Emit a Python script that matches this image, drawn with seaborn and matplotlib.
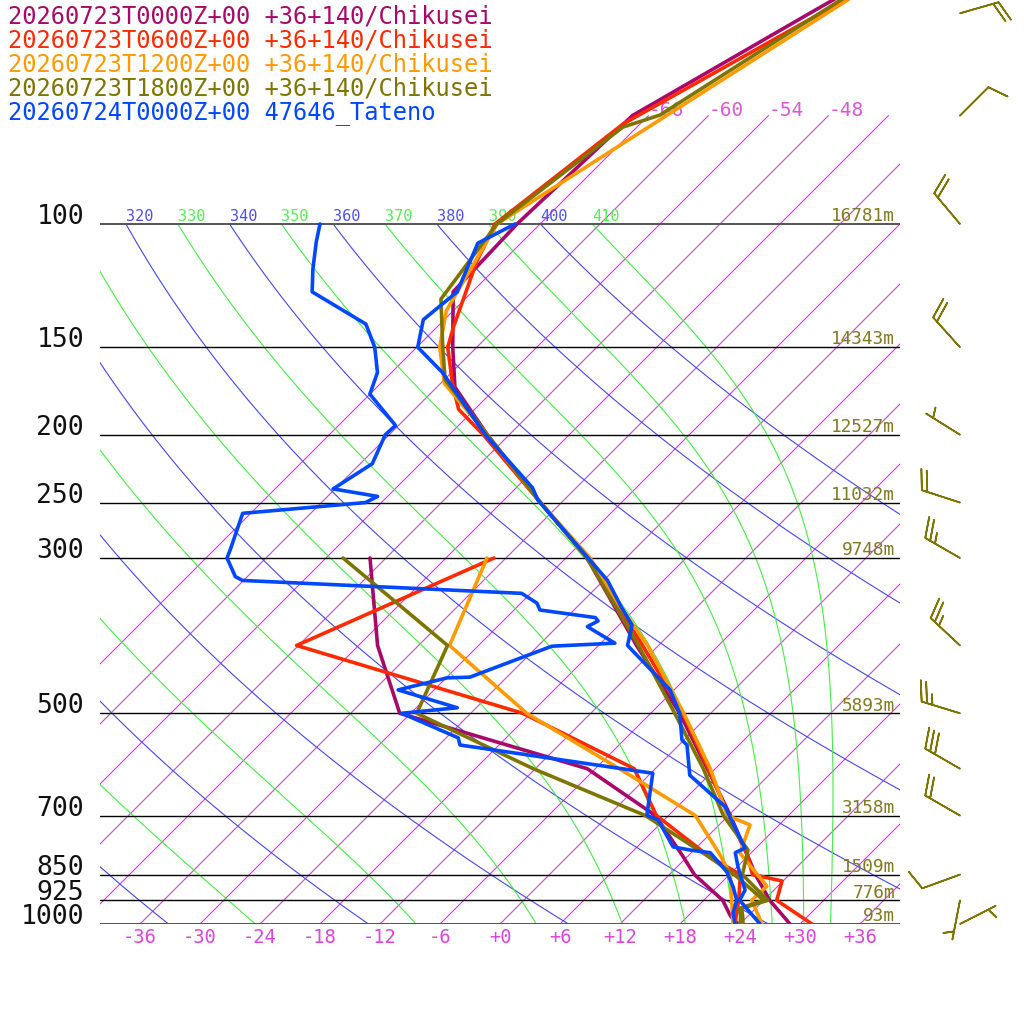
import numpy as np
import pandas as pd
import seaborn as sns
import matplotlib
matplotlib.use('Agg')
import matplotlib.pyplot as plt

sns.set_style('white')
plt.rcParams['font.family'] = ['DejaVu Sans Mono', 'DejaVu Sans']

# ---- data (pressure hPa, temperature degC) ----
purple_T_p = [1000, 925, 850, 800, 700, 600, 500, 400, 300, 250, 200, 171, 150, 125, 100, 70, 50, 30]
purple_T = [29.0, 24.6, 20.6, 18.0, 12.2, 5.2, -3.1, -14.2, -27.9, -38.1, -50.2, -58.2, -62.4, -67.9, -68.3, -67.6, -60.1, -48.5]
purple_Td_p = [1000, 975, 925, 850, 800, 700, 600, 500, 400, 300]
purple_Td = [23.8, 22.3, 19.9, 14.5, 11.5, 4.7, -6.8, -31.1, -40.1, -49.6]

red_T_p = [1000, 925, 868, 850, 800, 700, 600, 500, 400, 300, 250, 200, 184, 169, 150, 140, 113, 100, 81, 72, 50, 30]
red_T = [31.2, 25.3, 23.9, 20.3, 18.0, 12.0, 5.3, -2.8, -13.6, -27.8, -38.1, -50.6, -55.6, -58.8, -62.9, -64.4, -68.6, -70.5, -68.7, -67.7, -59.0, -46.9]
red_Td_p = [1000, 925, 850, 800, 700, 600, 500, 400, 300]
red_Td = [23.5, 21.5, 19.1, 14.1, 4.8, -2.1, -18.8, -48.2, -37.2]

orange_T_p = [1000, 925, 883, 792, 722, 700, 600, 500, 400, 348, 300, 250, 200, 169, 150, 133, 100, 70, 50, 30]
orange_T = [26.2, 22.8, 22.9, 16.9, 15.1, 11.9, 5.5, -2.7, -13.1, -20.3, -27.6, -38.1, -50.2, -59.6, -63.7, -66.7, -70.3, -64.2, -58.4, -49.6]
orange_Td_p = [1000, 925, 850, 800, 700, 600, 500, 400, 300]
orange_Td = [23.3, 20.8, 18.1, 15.3, 8.7, -3.6, -18.4, -32.9, -37.9]

olive_T_p = [1000, 975, 950, 925, 850, 784, 700, 600, 500, 400, 300, 250, 200, 167, 150, 128, 100, 72.7, 69.9, 50, 30]
olive_T = [24.3, 23.5, 22.6, 24.4, 19.3, 17.4, 11.5, 4.8, -3.6, -14.0, -27.9, -38.1, -50.2, -59.9, -63.4, -68.4, -70.3, -67.4, -64.9, -59.1, -50.4]
olive_Td_p = [1000, 975, 950, 925, 850, 800, 700, 600, 500, 400, 300]
olive_Td = [24.0, 23.3, 22.4, 24.0, 18.5, 14.0, 3.7, -12.2, -29.4, -33.1, -52.3]

blue_T_p = [1000, 925, 894, 829, 791, 779, 694, 680, 613, 555, 546, 500, 463, 400, 374, 353, 323, 283,
            248, 238, 200, 163, 150, 137, 125, 106.5, 100]
blue_T = [26.0, 21.6, 21.1, 18.1, 16.4, 16.9, 11.7, 10.8, 4.1, 0.8, -0.2, -3.1, -6.4, -15.1, -16.7, -19.5, -23.6, -31.1,
          -38.6, -40.4, -50.4, -60.9, -65.9, -68.1, -67.5, -70.3, -68.5]
blue_Td_p = [1000, 964, 925, 885, 843, 791, 784, 776, 710, 699, 609, 555, 542, 500, 491, 463, 445, 444, 401, 397,
             376, 369, 365, 356, 348, 337, 323, 319, 300, 292, 259, 250, 245, 239, 220, 200, 194, 175, 163, 150,
             139, 125, 116, 106, 100]
blue_Td = [23.5, 22.2, 21.3, 19.6, 17.5, 13.9, 11.6, 9.6, 5.4, 3.8, 0.2, -21.9, -22.8, -30.9, -25.9, -33.6, -29.9, -27.7, -22.6, -16.6,
           -21.0, -20.5, -21.1, -27.4, -28.4, -30.9, -60.1, -61.2, -63.9, -64.4, -66.8, -55.6, -55.0, -60.2, -58.8, -60.4, -60.3, -66.0, -67.4, -70.2,
           -73.4, -82.0, -84.2, -86.6, -88.0]

legend_labels = ['20260723T0000Z+00 +36+140/Chikusei', '20260723T0600Z+00 +36+140/Chikusei',
                 '20260723T1200Z+00 +36+140/Chikusei', '20260723T1800Z+00 +36+140/Chikusei',
                 '20260724T0000Z+00 47646_Tateno']
colors = ['#a8086a', '#ff2a00', '#ff9a00', '#7d7500', '#0048ff']

barb_p = [1000, 925, 850, 700, 600, 500, 400, 300, 250, 200, 150, 100, 70, 50]
barb_dir = [63, 191, 250, 300, 300, 287, 313, 300, 288, 302, 318, 320, 45, 74]
barb_spd = [5, 5, 10, 20, 30, 25, 25, 25, 20, 5, 20, 20, 10, 20]

level_p = [100, 150, 200, 250, 300, 500, 700, 850, 925, 1000]
level_height = ['16781m', '14343m', '12527m', '11032m', '9748m', '5893m', '3158m', '1509m', '776m', '93m']

iso_labels_top = [-66, -60, -54, -48]
iso_labels_bottom = list(range(-36, 37, 6))

# ---- skew-T helpers ----
SKEW = 70.0      # degC of shift per decade of pressure
KAPPA = 0.2857
RD, CP, LV = 287.04, 1004.6, 2.501e6


def skew_x(t, p):
    return np.asarray(t, float) + SKEW * np.log10(1000.0 / np.asarray(p, float))


def moist_rate(tk, lnp):
    p = np.exp(lnp)
    es = 6.112 * np.exp(17.67 * (tk - 273.15) / (tk - 29.65))
    rs = 0.622 * es / (p - es)
    return (RD * tk + LV * rs) / (CP + LV * LV * rs * 0.622 / (RD * tk * tk))


def moist_adiabats(thetas, n=300):
    lp = np.linspace(np.log(100.0), np.log(1000.0), n)
    t = np.asarray(thetas, float) * 0.1 ** KAPPA
    rows = [t.copy()]
    for i in range(n - 1):
        h = lp[i + 1] - lp[i]
        k1 = moist_rate(t, lp[i])
        k2 = moist_rate(t + h * k1 / 2, lp[i] + h / 2)
        k3 = moist_rate(t + h * k2 / 2, lp[i] + h / 2)
        k4 = moist_rate(t + h * k3, lp[i + 1])
        t = t + h * (k1 + 2 * k2 + 2 * k3 + k4) / 6
        rows.append(t.copy())
    return np.exp(lp), np.array(rows)


fig = plt.figure(figsize=(10.24, 10.24), dpi=100)
ax = fig.add_axes([100 / 1024, 100 / 1024, 800 / 1024, 924 / 1024])
ax.set_yscale('log')
ax.set_xlim(-40, 40)
ax.set_ylim(1000, 1000 * 10 ** (-924 / 700))
ax.axis('off')

# isotherms
for t in range(-66, 43, 6):
    pp = np.array([1000.0, 70.0])
    ax.plot(skew_x([t, t], pp), pp, color='#d63ce0', lw=0.8, zorder=1)
for t in iso_labels_top:
    ax.text(skew_x(t, 70), 70, f'{t}', color='#dd55dd', fontsize=14, ha='left', va='baseline', zorder=2)
for t in iso_labels_bottom:
    ax.annotate(f'{t:+d}', (t, 1000), xytext=(0, -9.5), textcoords='offset points', color='#dd44dd',
                fontsize=13.5, ha='center', va='center', annotation_clip=False)

# dry adiabats
pp = np.logspace(3, 2, 120)
for th in range(240, 401, 20):
    ax.plot(skew_x(th * (pp / 1000) ** KAPPA - 273.15, pp), pp, color='#4646ee', lw=0.8, zorder=1)
    ax.annotate(str(th), (skew_x(th * 0.1 ** KAPPA - 273.15, 100), 100), xytext=(0, 2),
                textcoords='offset points', color='#5050ee', fontsize=11, ha='left', va='baseline', clip_on=True)

# moist adiabats
moist_th = list(range(230, 411, 20))
mp, mt = moist_adiabats(moist_th)
for j, th in enumerate(moist_th):
    ax.plot(skew_x(mt[:, j] - 273.15, mp), mp, color='#44ee44', lw=0.8, zorder=1)
    ax.annotate(str(th), (skew_x(mt[0, j] - 273.15, 100), 100), xytext=(0, 2),
                textcoords='offset points', color='#55ee55', fontsize=11, ha='left', va='baseline', clip_on=True)

# pressure levels
for p, h in zip(level_p, level_height):
    edge = p in (100, 1000)
    ax.plot([-40, 40], [p, p], color='#555555' if edge else 'black', lw=1.4 if edge else 1.0, zorder=3)
    ax.text(-41.6, p, str(p), fontsize=19, ha='right', va='baseline', color='#111111')
    ax.annotate(h, (39.5, p), xytext=(0, 2), textcoords='offset points', ha='right', va='baseline',
                fontsize=12.8, color='#807a20')

# profiles
profiles = [(purple_T_p, purple_T, purple_Td_p, purple_Td), (red_T_p, red_T, red_Td_p, red_Td),
            (orange_T_p, orange_T, orange_Td_p, orange_Td), (olive_T_p, olive_T, olive_Td_p, olive_Td),
            (blue_T_p, blue_T, blue_Td_p, blue_Td)]
for (tp, t, dp, td), c in zip(profiles, colors):
    for pl, vals in ((tp, t), (dp, td)):
        df = pd.DataFrame({'p': pl, 'X': skew_x(vals, pl)})
        sns.lineplot(data=df, x='X', y='p', sort=False, estimator=None, color=c, linewidth=2.6, ax=ax, zorder=5)

for i, (lab, c) in enumerate(zip(legend_labels, colors)):
    fig.text(8 / 1024, 1 - (17 + 24 * i) / 1024, lab, color=c, fontsize=17.1, ha='left', va='center')

# wind barbs
ax2 = fig.add_axes([900 / 1024, 100 / 1024, 124 / 1024, 924 / 1024], sharey=ax)
ax2.set_xlim(0, 1)
ax2.axis('off')
rad = np.deg2rad(barb_dir)
u = -np.array(barb_spd) * np.sin(rad)
v = -np.array(barb_spd) * np.cos(rad)
ax2.barbs(np.full(len(barb_p), 60 / 124), barb_p, u, v, length=7.6, color='#7d7500', linewidth=1.2,
          sizes=dict(spacing=0.14, height=0.5, width=0.35), clip_on=False)
ax.set_ylim(1000, 1000 * 10 ** (-924 / 700))

fig.savefig('out.png', dpi=100)
